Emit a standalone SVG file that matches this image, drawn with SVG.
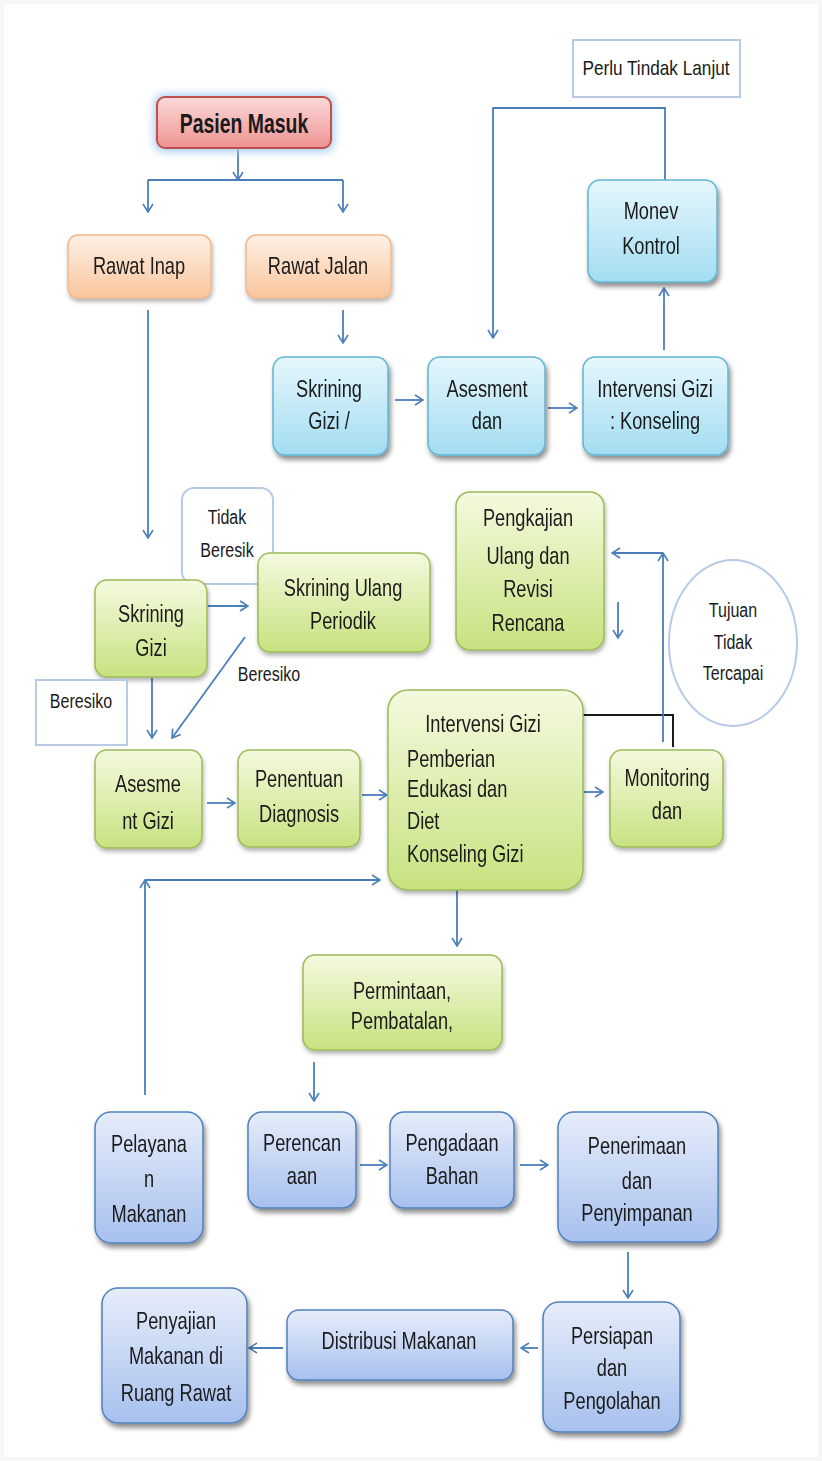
<svg xmlns="http://www.w3.org/2000/svg" width="822" height="1461" viewBox="0 0 822 1461">
  <defs>
    <style>
      .t { font-family: "Liberation Sans", Arial, sans-serif; font-size: 24px; fill: #1a1a1a; text-anchor: middle; }
      .ts { font-family: "Liberation Sans", Arial, sans-serif; font-size: 20px; fill: #1a1a1a; text-anchor: middle; }
      .tl { font-family: "Liberation Sans", Arial, sans-serif; font-size: 24px; fill: #1a1a1a; text-anchor: start; }
      .tb { font-family: "Liberation Sans", Arial, sans-serif; font-size: 27px; font-weight: bold; fill: #1a1a1a; text-anchor: middle; }
      .red { fill: url(#gRed); stroke: #c0504d; stroke-width: 2; }
      .org { fill: url(#gOrg); stroke: #f2b98c; stroke-width: 1.5; }
      .cyn { fill: url(#gCyn); stroke: #5fb5d3; stroke-width: 1.5; }
      .grn { fill: url(#gGrn); stroke: #9cbb58; stroke-width: 1.5; }
      .blu { fill: url(#gBlu); stroke: #4f81bd; stroke-width: 1.5; }
      .lbl { fill: #ffffff; stroke: #b7cbe6; stroke-width: 2; }
      .ln { fill: none; stroke: #4a7ebb; stroke-width: 1.8; }
      .arr { marker-end: url(#ah); }
    </style>
    <linearGradient id="gRed" x1="0" y1="0" x2="0" y2="1">
      <stop offset="0" stop-color="#fbd9d9"/>
      <stop offset="1" stop-color="#ef9393"/>
    </linearGradient>
    <linearGradient id="gOrg" x1="0" y1="0" x2="0" y2="1">
      <stop offset="0" stop-color="#fef1e6"/>
      <stop offset="1" stop-color="#f9c59c"/>
    </linearGradient>
    <linearGradient id="gCyn" x1="0" y1="0" x2="0" y2="1">
      <stop offset="0" stop-color="#e6f7fd"/>
      <stop offset="1" stop-color="#a3ddf1"/>
    </linearGradient>
    <linearGradient id="gGrn" x1="0" y1="0" x2="0" y2="1">
      <stop offset="0" stop-color="#f4fadf"/>
      <stop offset="1" stop-color="#c7e27f"/>
    </linearGradient>
    <linearGradient id="gBlu" x1="0" y1="0" x2="0" y2="1">
      <stop offset="0" stop-color="#e6edfa"/>
      <stop offset="1" stop-color="#a7c0ee"/>
    </linearGradient>
    <filter id="sh" x="-20%" y="-20%" width="140%" height="150%">
      <feDropShadow dx="2" dy="4" stdDeviation="2.5" flood-color="#000" flood-opacity="0.45"/>
    </filter>
    <filter id="shl" x="-20%" y="-20%" width="140%" height="150%">
      <feDropShadow dx="1" dy="3" stdDeviation="2" flood-color="#000" flood-opacity="0.3"/>
    </filter>
    <filter id="glow" x="-30%" y="-50%" width="160%" height="200%">
      <feGaussianBlur stdDeviation="4"/>
    </filter>
    <marker id="ah" viewBox="0 0 10 12" refX="9" refY="6" markerWidth="10" markerHeight="12" markerUnits="userSpaceOnUse" orient="auto">
      <path d="M1,1 L9,6 L1,11" fill="none" stroke="#4a7ebb" stroke-width="1.6"/>
    </marker>
  </defs>

  <rect width="822" height="1461" fill="#ffffff"/>
  <rect x="2" y="2" width="818" height="1457" fill="none" stroke="#f7f7f7" stroke-width="4"/>

  <!-- connectors -->
  <g id="connectors">
    <!-- intake split -->
    <path class="ln arr" d="M238,149 V180"/>
    <path class="ln" d="M148,180 H343"/>
    <path class="ln arr" d="M148,180 V212"/>
    <path class="ln arr" d="M343,180 V212"/>
    <!-- outpatient path -->
    <path class="ln arr" d="M343,310 V343"/>
    <path class="ln arr" d="M395,400 H423"/>
    <path class="ln arr" d="M548,408 H577"/>
    <path class="ln arr" d="M664,350 V288"/>
    <path class="ln arr" d="M665,180 V108 H493 V338"/>
    <!-- inpatient path -->
    <path class="ln arr" d="M148,310 V538"/>
    <path class="ln arr" d="M207,606 H248"/>
    <path class="ln arr" d="M152,678 V738"/>
    <path class="ln arr" d="M245,637 L172,738"/>
    <path class="ln arr" d="M207,803 H235"/>
    <path class="ln arr" d="M362,795 H387"/>
    <path class="ln arr" d="M577,792 H603"/>
    <path d="M583,715 H673 V747" fill="none" stroke="#1a1a1a" stroke-width="2"/>
    <path class="ln arr" d="M663,742 V553"/>
    <path class="ln arr" d="M663,553 H612"/>
    <path class="ln arr" d="M618,602 V638"/>
    <!-- food service path -->
    <path class="ln arr" d="M457,890 V946"/>
    <path class="ln arr" d="M314,1062 V1101"/>
    <path class="ln arr" d="M360,1165 H387"/>
    <path class="ln arr" d="M520,1165 H548"/>
    <path class="ln arr" d="M628,1252 V1298"/>
    <path class="ln arr" d="M538,1348 H521"/>
    <path class="ln arr" d="M283,1348 H249"/>
    <path class="ln arr" d="M145,1095 V880"/>
    <path class="ln arr" d="M145,880 H380"/>
  </g>

  <!-- nodes -->
  <g id="perlu-tindak-lanjut">
    <rect class="lbl" x="573" y="40" width="167" height="57" stroke-width="1.5"/>
    <text class="ts" font-size="18" transform="matrix(.86 0 0 1 656 75)">Perlu Tindak Lanjut</text>
  </g>

  <g id="pasien-masuk">
    <rect x="154" y="94" width="180" height="58" rx="10" fill="#a9cdef" filter="url(#glow)"/>
    <rect class="red" x="157" y="97" width="174" height="51" rx="8"/>
    <text class="tb" transform="matrix(.72 0 0 1 244 133)">Pasien Masuk</text>
  </g>

  <g id="rawat-inap" filter="url(#shl)">
    <rect class="org" x="68" y="235" width="143" height="63" rx="10"/>
    <text class="t" transform="matrix(.76 0 0 1 139 274)">Rawat Inap</text>
  </g>

  <g id="rawat-jalan" filter="url(#shl)">
    <rect class="org" x="246" y="235" width="145" height="63" rx="10"/>
    <text class="t" transform="matrix(.76 0 0 1 318 274)">Rawat Jalan</text>
  </g>

  <g id="monev-kontrol" filter="url(#sh)">
    <rect class="cyn" x="588" y="180" width="129" height="102" rx="12"/>
    <text class="t" transform="matrix(.76 0 0 1 651 219)">Monev</text>
    <text class="t" transform="matrix(.76 0 0 1 651 254)">Kontrol</text>
  </g>

  <g id="skrining-gizi-rj" filter="url(#sh)">
    <rect class="cyn" x="273" y="357" width="115" height="98" rx="12"/>
    <text class="t" transform="matrix(.76 0 0 1 329 397)">Skrining</text>
    <text class="t" transform="matrix(.76 0 0 1 329 429)">Gizi /</text>
  </g>

  <g id="asesment-dan" filter="url(#sh)">
    <rect class="cyn" x="428" y="357" width="117" height="98" rx="12"/>
    <text class="t" transform="matrix(.76 0 0 1 487 397)">Asesment</text>
    <text class="t" transform="matrix(.76 0 0 1 487 429)">dan</text>
  </g>

  <g id="intervensi-konseling" filter="url(#sh)">
    <rect class="cyn" x="583" y="357" width="145" height="98" rx="12"/>
    <text class="t" transform="matrix(.76 0 0 1 655 397)">Intervensi Gizi</text>
    <text class="t" transform="matrix(.76 0 0 1 655 429)">: Konseling</text>
  </g>

  <g id="tidak-beresiko">
    <rect class="lbl" x="182" y="488" width="91" height="96" rx="12"/>
    <text class="ts" transform="matrix(.8 0 0 1 227 524)">Tidak</text>
    <text class="ts" transform="matrix(.8 0 0 1 227 557)">Beresik</text>
  </g>

  <g id="skrining-gizi" filter="url(#shl)">
    <rect class="grn" x="95" y="580" width="112" height="97" rx="12"/>
    <text class="t" transform="matrix(.76 0 0 1 151 622)">Skrining</text>
    <text class="t" transform="matrix(.76 0 0 1 151 656)">Gizi</text>
  </g>

  <g id="skrining-ulang" filter="url(#shl)">
    <rect class="grn" x="258" y="553" width="172" height="99" rx="12"/>
    <text class="t" font-size="25" transform="matrix(.76 0 0 1 343 596)">Skrining Ulang</text>
    <text class="t" font-size="25" transform="matrix(.76 0 0 1 343 629)">Periodik</text>
  </g>

  <g id="label-beresiko">
    <text class="ts" transform="matrix(.8 0 0 1 269 681)">Beresiko</text>
  </g>

  <g id="beresiko">
    <rect class="lbl" x="36" y="680" width="91" height="65"/>
    <text class="ts" transform="matrix(.8 0 0 1 81 708)">Beresiko</text>
  </g>

  <g id="pengkajian-ulang" filter="url(#shl)">
    <rect class="grn" x="456" y="492" width="148" height="158" rx="14"/>
    <text class="t" transform="matrix(.76 0 0 1 528 526)">Pengkajian</text>
    <text class="t" transform="matrix(.76 0 0 1 528 564)">Ulang dan</text>
    <text class="t" transform="matrix(.76 0 0 1 528 597)">Revisi</text>
    <text class="t" transform="matrix(.76 0 0 1 528 631)">Rencana</text>
  </g>

  <g id="tujuan-tidak-tercapai">
    <ellipse cx="733" cy="643" rx="64" ry="83" fill="#ffffff" stroke="#b7cbe6" stroke-width="2"/>
    <text class="ts" font-size="21" transform="matrix(.8 0 0 1 733 617)">Tujuan</text>
    <text class="ts" font-size="21" transform="matrix(.8 0 0 1 733 649)">Tidak</text>
    <text class="ts" font-size="21" transform="matrix(.8 0 0 1 733 680)">Tercapai</text>
  </g>

  <g id="asesmen-gizi" filter="url(#shl)">
    <rect class="grn" x="95" y="750" width="107" height="98" rx="12"/>
    <text class="t" transform="matrix(.76 0 0 1 148 792)">Asesme</text>
    <text class="t" transform="matrix(.76 0 0 1 148 829)">nt Gizi</text>
  </g>

  <g id="penentuan-diagnosis" filter="url(#shl)">
    <rect class="grn" x="238" y="750" width="122" height="97" rx="12"/>
    <text class="t" transform="matrix(.76 0 0 1 299 787)">Penentuan</text>
    <text class="t" transform="matrix(.76 0 0 1 299 822)">Diagnosis</text>
  </g>

  <g id="intervensi-gizi" filter="url(#shl)">
    <rect class="grn" x="388" y="690" width="195" height="200" rx="20"/>
    <text class="t" transform="matrix(.76 0 0 1 483 732)">Intervensi Gizi</text>
    <text class="tl" transform="matrix(.76 0 0 1 407 767)">Pemberian</text>
    <text class="tl" transform="matrix(.76 0 0 1 407 797)">Edukasi dan</text>
    <text class="tl" transform="matrix(.76 0 0 1 407 829)">Diet</text>
    <text class="tl" transform="matrix(.76 0 0 1 407 862)">Konseling Gizi</text>
  </g>

  <g id="monitoring-dan" filter="url(#shl)">
    <rect class="grn" x="610" y="750" width="113" height="97" rx="12"/>
    <text class="t" transform="matrix(.76 0 0 1 667 786)">Monitoring</text>
    <text class="t" transform="matrix(.76 0 0 1 667 819)">dan</text>
  </g>

  <g id="permintaan" filter="url(#shl)">
    <rect class="grn" x="303" y="955" width="199" height="95" rx="12"/>
    <text class="t" transform="matrix(.76 0 0 1 402 999)">Permintaan,</text>
    <text class="t" transform="matrix(.76 0 0 1 402 1029)">Pembatalan,</text>
  </g>

  <g id="pelayanan-makanan" filter="url(#sh)">
    <rect class="blu" x="95" y="1112" width="108" height="131" rx="16"/>
    <text class="t" transform="matrix(.76 0 0 1 149 1152)">Pelayana</text>
    <text class="t" transform="matrix(.76 0 0 1 149 1187)">n</text>
    <text class="t" transform="matrix(.76 0 0 1 149 1222)">Makanan</text>
  </g>

  <g id="perencanaan" filter="url(#sh)">
    <rect class="blu" x="248" y="1112" width="108" height="96" rx="14"/>
    <text class="t" transform="matrix(.76 0 0 1 302 1151)">Perencan</text>
    <text class="t" transform="matrix(.76 0 0 1 302 1184)">aan</text>
  </g>

  <g id="pengadaan-bahan" filter="url(#sh)">
    <rect class="blu" x="390" y="1112" width="124" height="96" rx="14"/>
    <text class="t" transform="matrix(.76 0 0 1 452 1151)">Pengadaan</text>
    <text class="t" transform="matrix(.76 0 0 1 452 1184)">Bahan</text>
  </g>

  <g id="penerimaan" filter="url(#sh)">
    <rect class="blu" x="558" y="1112" width="160" height="130" rx="16"/>
    <text class="t" transform="matrix(.76 0 0 1 637 1154)">Penerimaan</text>
    <text class="t" transform="matrix(.76 0 0 1 637 1189)">dan</text>
    <text class="t" transform="matrix(.76 0 0 1 637 1221)">Penyimpanan</text>
  </g>

  <g id="persiapan" filter="url(#sh)">
    <rect class="blu" x="543" y="1302" width="137" height="130" rx="16"/>
    <text class="t" transform="matrix(.76 0 0 1 612 1344)">Persiapan</text>
    <text class="t" transform="matrix(.76 0 0 1 612 1376)">dan</text>
    <text class="t" transform="matrix(.76 0 0 1 612 1409)">Pengolahan</text>
  </g>

  <g id="distribusi-makanan" filter="url(#sh)">
    <rect class="blu" x="287" y="1310" width="226" height="70" rx="12"/>
    <text class="t" font-size="26" transform="matrix(.76 0 0 1 399 1349)">Distribusi Makanan</text>
  </g>

  <g id="penyajian-makanan" filter="url(#sh)">
    <rect class="blu" x="102" y="1288" width="145" height="135" rx="16"/>
    <text class="t" transform="matrix(.76 0 0 1 176 1329)">Penyajian</text>
    <text class="t" transform="matrix(.76 0 0 1 176 1364)">Makanan di</text>
    <text class="t" transform="matrix(.76 0 0 1 176 1401)">Ruang Rawat</text>
  </g>
</svg>
